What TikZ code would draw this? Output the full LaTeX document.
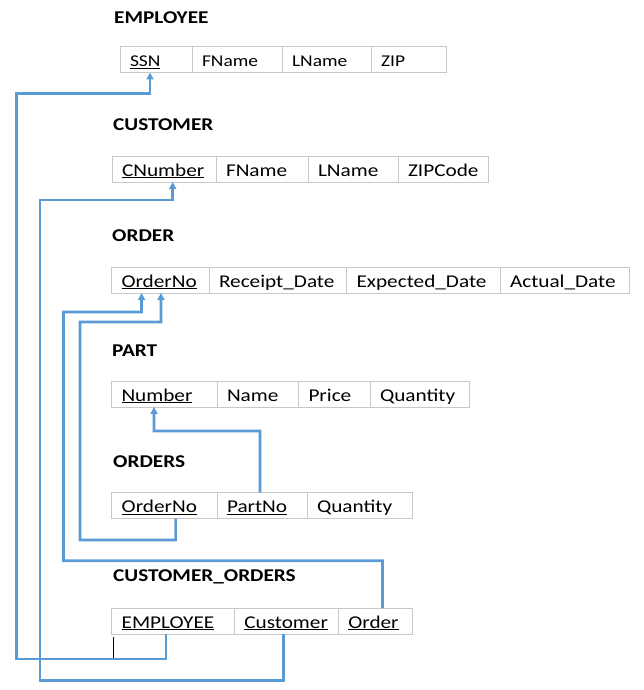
\documentclass[tikz,border=0pt]{standalone}
\usepackage{fontspec}
\setmainfont{Carlito}[FakeStretch=1.18]
\usepackage{tikz}
\usetikzlibrary{arrows.meta, positioning, calc}
\usepackage{xcolor}
\definecolor{linkblue}{RGB}{91,155,213}
\definecolor{cellgray}{RGB}{200,200,200}

\tikzset{
  cell/.style={draw=cellgray, line width=1pt, outer sep=0pt, minimum height=26pt, inner xsep=10pt, inner ysep=0pt, text height=15pt, text depth=1pt, align=left, font=\fontsize{18}{20}\selectfont},
  smallcell/.style={cell, font=\fontsize{16.5}{18}\selectfont},
  tabtitle/.style={anchor=west, inner sep=0pt, font=\fontsize{18}{20}\selectfont\bfseries},
  link/.style={draw=linkblue, line width=2.6pt},
  fk/.style={link, -{Triangle[width=7pt,length=7pt]}},
}

\begin{document}
\begin{tikzpicture}[x=1pt, y=-1pt]
        \useasboundingbox (0,0) rectangle (643,690);
        % EMPLOYEE
        \node[tabtitle] (tEmp) at (114,18) {EMPLOYEE};
        \node[smallcell, anchor=west, text width=52pt] (empSSN) at (120,59.5) {\underline{SSN}};
        \node[smallcell, right=0pt of empSSN, text width=70pt] (empFN) {FName};
        \node[smallcell, right=0pt of empFN, text width=69pt] (empLN) {LName};
        \node[smallcell, right=0pt of empLN, text width=55pt] (empZip) {ZIP};
        % CUSTOMER
        \node[tabtitle] (tCust) at (113,125) {CUSTOMER};
        \node[cell, anchor=west, text width=84pt] (custNo) at (112,169) {\underline{CNumber}};
        \node[cell, right=0pt of custNo, text width=72pt] (custFN) {FName};
        \node[cell, right=0pt of custFN, text width=70pt] (custLN) {LName};
        \node[cell, right=0pt of custLN, text width=70pt] (custZip) {ZIPCode};
        % ORDER
        \node[tabtitle] (tOrd) at (112,236) {ORDER};
        \node[cell, anchor=west, text width=77.5pt] (ordNo) at (111.5,280) {\underline{OrderNo}};
        \node[cell, right=0pt of ordNo, text width=117.5pt] (ordRec) {Receipt\_Date};
        \node[cell, right=0pt of ordRec, text width=133.5pt] (ordExp) {Expected\_Date};
        \node[cell, right=0pt of ordExp, text width=109.5pt] (ordAct) {Actual\_Date};
        % PART
        \node[tabtitle] (tPart) at (112,351) {PART};
        \node[cell, anchor=west, text width=85.5pt] (partNo) at (111.5,394) {\underline{Number}};
        \node[cell, right=0pt of partNo, text width=61.5pt] (partName) {Name};
        \node[cell, right=0pt of partName, text width=51.5pt] (partPrice) {Price};
        \node[cell, right=0pt of partPrice, text width=79.5pt] (partQty) {Quantity};
        % ORDERS
        \node[tabtitle] (tOrds) at (113,462) {ORDERS};
        \node[cell, anchor=west, text width=85.3pt] (ordsNo) at (111.7,505.5) {\underline{OrderNo}};
        \node[cell, right=0pt of ordsNo, text width=70pt] (ordsPart) {\underline{PartNo}};
        \node[cell, right=0pt of ordsPart, text width=85.7pt] (ordsQty) {Quantity};
        % CUSTOMER_ORDERS
        \node[tabtitle] (tCO) at (113,577) {CUSTOMER\_ORDERS};
        \node[cell, anchor=west, text width=102.6pt] (coEmp) at (111.7,621) {\underline{EMPLOYEE}};
        \node[cell, right=0pt of coEmp, text width=84pt] (coCust) {\underline{Customer}};
        \node[cell, right=0pt of coCust, text width=54.4pt] (coOrd) {\underline{Order}};
        % foreign keys
        \draw[fk] ([xshift=-7pt]coEmp.south) |- (16.7,659) |- (150,93.3) -- ([xshift=-6pt]empSSN.south);
        \draw[fk] ([xshift=-3pt]coCust.south) |- (40,680.7) |- (172.7,200) -- ([xshift=8.7pt]custNo.south);
        \draw[fk] ([xshift=7pt]coOrd.north) |- (63.5,560.7) |- (141.5,312) -- ([xshift=-18.7pt]ordNo.south);
        \draw[fk] ([xshift=11.3pt]ordsNo.south) |- (80,540) |- (161,322) -- ([xshift=0.7pt]ordNo.south);
        \draw[fk] ([xshift=-2pt]ordsPart.north) |- (154,431) -- ([xshift=-10.2pt]partNo.south);
        % cursor mark
        \draw[black, line width=0.8pt] (113,637) -- (113,658);
\end{tikzpicture}
\end{document}
